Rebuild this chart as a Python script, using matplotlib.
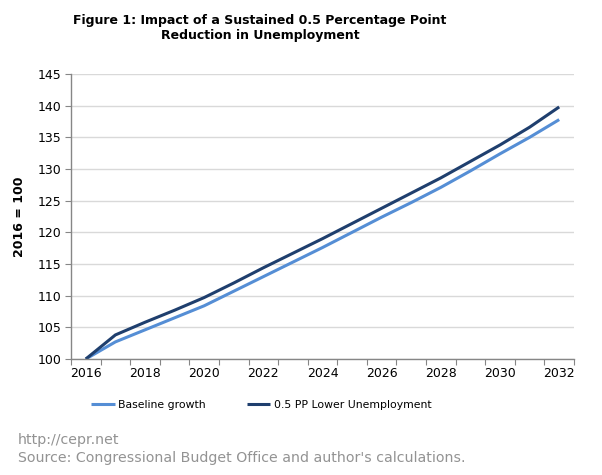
import matplotlib
matplotlib.use("Agg")
import matplotlib.pyplot as plt
import numpy as np

years = list(range(2016, 2033))
baseline = [100.0, 102.7, 104.6, 106.5, 108.4, 110.7, 113.0, 115.3, 117.6,
            120.0, 122.4, 124.7, 127.1, 129.7, 132.4, 135.0, 137.8]
lower_unemp = [100.0, 103.8, 105.8, 107.7, 109.7, 112.0, 114.4, 116.7, 119.0,
               121.4, 123.8, 126.2, 128.6, 131.2, 133.8, 136.6, 139.8]
y_ticks = [100, 105, 110, 115, 120, 125, 130, 135, 140, 145]

light_blue = '#558ED5'
dark_blue = '#1F3F6E'
axis_grey = '#868686'

plt.rcParams['font.family'] = 'DejaVu Sans'

fig = plt.figure(figsize=(6.02, 4.75), dpi=100)
ax = fig.add_axes([71 / 602, 1 - 359 / 475, 503 / 602, 285 / 475])

x = np.arange(len(years))
ax.plot(x, baseline, color=light_blue, lw=2.2, label='Baseline growth',
        solid_capstyle='butt')
ax.plot(x, lower_unemp, color=dark_blue, lw=2.2, label='0.5 PP Lower Unemployment',
        solid_capstyle='butt')

ax.set_xlim(-0.5, len(years) - 0.5)
ax.set_ylim(100, 145)
ax.set_yticks(y_ticks)
ax.tick_params(axis='y', labelsize=9, length=4, color=axis_grey, pad=3)

# category axis: tick marks at boundaries, labels on every second year
ax.set_xticks(np.arange(-0.5, len(years), 1.0))
ax.set_xticklabels([])
ax.tick_params(axis='x', which='major', length=4, color=axis_grey)
ax.set_xticks(x[::2], minor=True)
ax.set_xticklabels([str(y) for y in years[::2]], minor=True)
ax.tick_params(axis='x', which='minor', length=0, labelsize=9, pad=6)

ax.grid(axis='y', color='#d9d9d9', lw=1)
ax.set_axisbelow(True)
for s in ['top', 'right']:
    ax.spines[s].set_visible(False)
for s in ['left', 'bottom']:
    ax.spines[s].set_color(axis_grey)
    ax.spines[s].set_linewidth(1)

ax.set_ylabel('2016 = 100', fontsize=9, fontweight='bold', labelpad=8)

fig.text(260 / 602, 1 - 28 / 475, 'Figure 1: Impact of a Sustained 0.5 Percentage Point\nReduction in Unemployment',
         ha='center', va='center', fontsize=9, fontweight='bold', linespacing=1.2)

fig.legend(loc='center', bbox_to_anchor=(261 / 602, 1 - 405 / 475), ncol=2, frameon=False,
           fontsize=7.8, handlelength=2.2, handletextpad=0.3, columnspacing=3.8)

fig.text(18 / 602, 1 - 440 / 475, 'http://cepr.net', ha='left', va='center',
         fontsize=10.2, color='#939393')
fig.text(18 / 602, 1 - 458 / 475, "Source: Congressional Budget Office and author's calculations.",
         ha='left', va='center', fontsize=10.2, color='#939393')

fig.savefig('out.png', dpi=100)
